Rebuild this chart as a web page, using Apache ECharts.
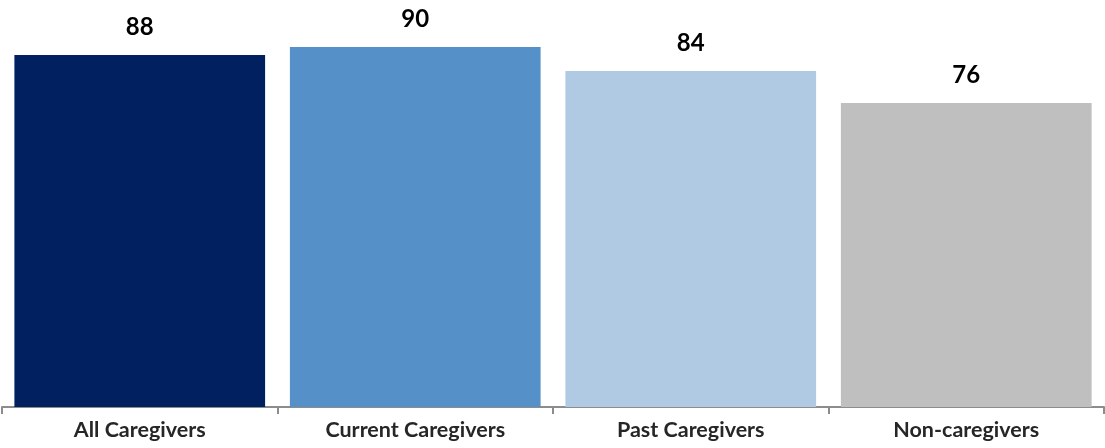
<!DOCTYPE html>
<html><head><meta charset="utf-8">
<script src="https://cdn.jsdelivr.net/npm/echarts@6/dist/echarts.min.js"></script>
<style>html,body{margin:0;padding:0;background:#fff}#c{width:1105px;height:448px}</style>
</head><body><div id="c"></div>
<script>
const categories = ['All Caregivers', 'Current Caregivers', 'Past Caregivers', 'Non-caregivers'];
const values = [88, 90, 84, 76];
const barColors = ['#002060', '#5590C9', '#B0CAE4', '#BFBFBF'];

const chart = echarts.init(document.getElementById('c'), null, {renderer: 'canvas'});
chart.setOption({
  animation: false,
  grid: {left: 2, right: 1, top: 7, bottom: 41, containLabel: false},
  xAxis: {
    type: 'category',
    data: categories,
    axisLine: {show: true, lineStyle: {color: '#8C8C8C', width: 2}},
    axisTick: {show: true, length: 7, lineStyle: {color: '#8C8C8C', width: 2}},
    axisLabel: {color: '#262626', fontFamily: 'Lato', fontWeight: 'bold', fontSize: 21.5, margin: 12}
  },
  yAxis: {type: 'value', min: 0, max: 100, show: false, splitLine: {show: false}},
  series: [{
    type: 'bar',
    data: values.map((v, i) => ({value: v, itemStyle: {color: barColors[i]}})),
    barCategoryGap: '9%',
    label: {show: true, position: 'top', distance: 16, color: '#000', fontFamily: 'Lato', fontWeight: 'bold', fontSize: 24}
  }]
});
</script></body></html>
